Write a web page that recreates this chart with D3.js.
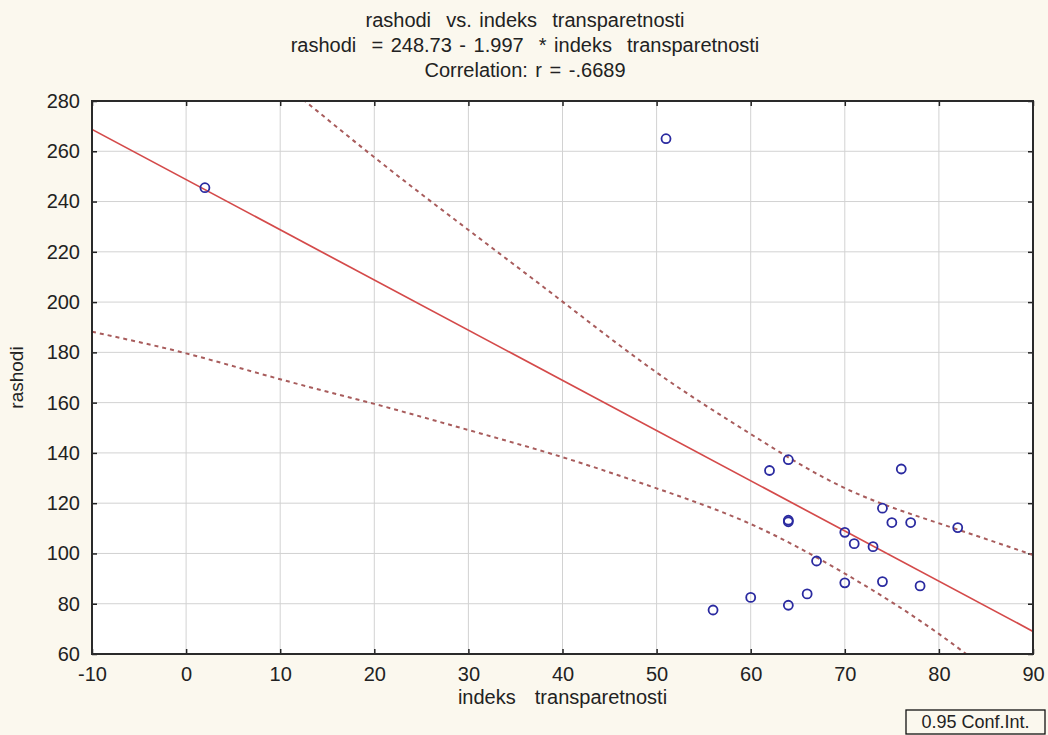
<!DOCTYPE html>
<html><head><meta charset="utf-8">
<script src="https://cdn.jsdelivr.net/npm/d3@7"></script>
<style>
html,body{margin:0;padding:0;background:#fbf8ee;}
svg{display:block;font-family:"Liberation Sans",Arial,sans-serif;}
</style></head>
<body><svg id="c" width="1048" height="735"></svg>
<script>
// Data
const indeks  = [2, 51, 56, 60, 62, 64, 64, 64, 64, 66, 67, 70, 70, 71, 73, 74, 74, 75, 76, 77, 78, 82];
const rashodi = [245.5, 265, 77.5, 82.5, 133, 137.3, 113.2, 112.6, 79.4, 83.9, 97, 108.4, 88.3, 103.9, 102.7, 118, 88.8, 112.3, 133.6, 112.3, 87.1, 110.3];
const intercept = 248.73, slope = -1.997;
const bandX     = [-10, 0, 10, 20, 30, 40, 50, 60, 70, 80, 90];
const bandUpper = [349, 318, 288, 257.6, 228.7, 200.2, 172, 147.5, 126, 112, 99.4];
const bandLower = [188.2, 179.6, 169.3, 159.5, 149.1, 138.3, 125.9, 111.7, 92, 68, 39];
const xTicks = [-10, 0, 10, 20, 30, 40, 50, 60, 70, 80, 90];
const yTicks = [60, 80, 100, 120, 140, 160, 180, 200, 220, 240, 260, 280];
const titleLines = ["rashodi  vs. indeks  transparetnosti",
                    "rashodi  = 248.73 - 1.997  * indeks  transparetnosti",
                    "Correlation: r = -.6689"];
const xTitle = "indeks  transparetnosti", yTitle = "rashodi", legendText = "0.95 Conf.Int.";

const svg = d3.select("#c");
const L = 92, R = 1033, T = 101, B = 654;
const x = d3.scaleLinear().domain([-10, 90]).range([L, R]);
const y = d3.scaleLinear().domain([60, 280]).range([B, T]);
const fmt = d => String(d);

svg.append("rect").attr("x", L).attr("y", T).attr("width", R - L).attr("height", B - T).attr("fill", "#fff");
svg.append("defs").append("clipPath").attr("id", "clip")
  .append("rect").attr("x", L).attr("y", T).attr("width", R - L).attr("height", B - T);

// grid
const g = svg.append("g");
g.selectAll(".vx").data(xTicks.slice(1, -1)).join("line")
  .attr("x1", d => x(d)).attr("x2", d => x(d)).attr("y1", T).attr("y2", B)
  .attr("stroke", "#d2d2d2").attr("stroke-width", 1);
g.selectAll(".hy").data(yTicks.slice(1, -1)).join("line")
  .attr("y1", d => y(d)).attr("y2", d => y(d)).attr("x1", L).attr("x2", R)
  .attr("stroke", "#d2d2d2").attr("stroke-width", 1);

// axes (inward ticks on all four sides)
const fs = 20;
const ax = svg.append("g").attr("transform", `translate(0,${B})`)
  .call(d3.axisBottom(x).tickValues(xTicks).tickFormat(fmt).tickSize(-5).tickPadding(13).tickSizeOuter(0));
const axT = svg.append("g").attr("transform", `translate(0,${T})`)
  .call(d3.axisTop(x).tickValues(xTicks).tickSize(-5).tickSizeOuter(0));
axT.selectAll("text").remove();
const ay = svg.append("g").attr("transform", `translate(${L},0)`)
  .call(d3.axisLeft(y).tickValues(yTicks).tickFormat(fmt).tickSize(-5).tickPadding(12).tickSizeOuter(0));
const ayR = svg.append("g").attr("transform", `translate(${R},0)`)
  .call(d3.axisRight(y).tickValues(yTicks).tickSize(-5).tickSizeOuter(0));
ayR.selectAll("text").remove();
[ax, axT, ay, ayR].forEach(a => {
  a.select(".domain").remove();
  a.selectAll("line").attr("stroke", "#222").attr("stroke-width", 1.5);
  a.selectAll("text").attr("font-size", fs).attr("fill", "#222")
   .attr("font-family", "Liberation Sans, Arial, sans-serif");
});
ax.selectAll("text").attr("dy", "0.71em");

// confidence bands
const band = d3.line().x((d, i) => x(bandX[i])).y(d => y(d)).curve(d3.curveNatural);
const cg = svg.append("g").attr("clip-path", "url(#clip)");
[bandUpper, bandLower].forEach(arr => {
  cg.append("path").attr("d", band(arr)).attr("fill", "none")
    .attr("stroke", "#a85c5c").attr("stroke-width", 2).attr("stroke-dasharray", "4,4");
});
// regression line
const xd = x.domain();
cg.append("line").attr("x1", x(xd[0])).attr("y1", y(intercept + slope * xd[0]))
  .attr("x2", x(xd[1])).attr("y2", y(intercept + slope * xd[1]))
  .attr("stroke", "#d44a4a").attr("stroke-width", 1.7);

// points
cg.selectAll("circle").data(indeks).join("circle")
  .attr("cx", d => x(d)).attr("cy", (d, i) => y(rashodi[i])).attr("r", 4.5)
  .attr("fill", "none").attr("stroke", "#2a2aa0").attr("stroke-width", 1.8);

// frame
svg.append("rect").attr("x", L).attr("y", T).attr("width", R - L).attr("height", B - T)
  .attr("fill", "none").attr("stroke", "#2a2a2a").attr("stroke-width", 2);

// titles
svg.append("g").selectAll("text").data(titleLines).join("text")
  .attr("x", 525).attr("y", (d, i) => 27 + i * 25).attr("text-anchor", "middle")
  .attr("font-size", 20).attr("fill", "#222").attr("word-spacing", 2)
  .style("white-space", "pre").text(d => d);
svg.append("text").attr("x", (L + R) / 2).attr("y", 704).attr("text-anchor", "middle")
  .attr("font-size", 20).attr("fill", "#222").attr("word-spacing", 4)
  .style("white-space", "pre").text(xTitle);
svg.append("text").attr("transform", `translate(23,${(T + B) / 2}) rotate(-90)`)
  .attr("text-anchor", "middle").attr("font-size", 19).attr("fill", "#222").text(yTitle);

// legend box
svg.append("rect").attr("x", 906).attr("y", 710).attr("width", 139).attr("height", 24)
  .attr("fill", "#fbf8ee").attr("stroke", "#111").attr("stroke-width", 1.3);
svg.append("text").attr("x", 975.5).attr("y", 728).attr("text-anchor", "middle")
  .attr("font-size", 18).attr("fill", "#222").text(legendText);
</script></body></html>
